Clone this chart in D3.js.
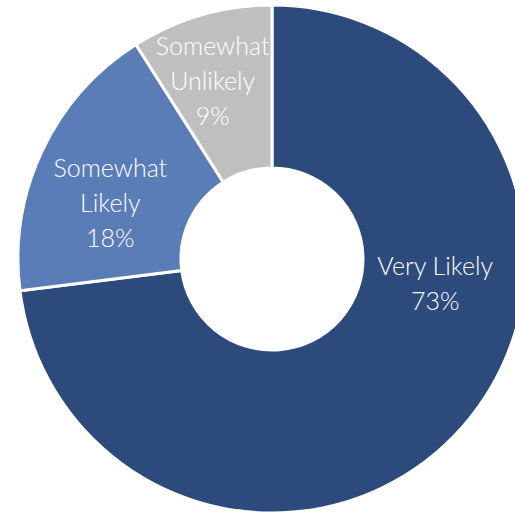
<!DOCTYPE html>
<html>
<head>
<meta charset="utf-8">
<script src="https://cdn.jsdelivr.net/npm/d3@7"></script>
<style>
  html, body { margin: 0; padding: 0; background: #fff; }
  svg { display: block; }
</style>
</head>
<body>
<svg id="chart" width="515" height="512"></svg>
<script>
// Survey responses, in drawing order (clockwise from 12 o'clock)
const categories = ["Very Likely", "Somewhat Likely", "Somewhat Unlikely"];
const shares = [73, 18, 9];
const labelLines = [["Very Likely"], ["Somewhat", "Likely"], ["Somewhat", "Unlikely"]];

const colors = ["#2D4A7C", "#5A7DB8", "#BFBFBF"];

const width = 515, height = 512;
const cx = 272, cy = 259;
const outerR = 254, innerR = 91;

// Label anchor for each slice: angle (degrees clockwise from top) and distance from centre
const labelAnchors = [
  { angle: 98.5, radius: 165 },
  { angle: 289, radius: 171 },
  { angle: 341.5, radius: 187 }
];

const svg = d3.select("#chart");
const g = svg.append("g").attr("transform", `translate(${cx},${cy})`);

const data = categories.map((c, i) => ({ category: c, value: shares[i], lines: labelLines[i], color: colors[i], anchor: labelAnchors[i] }));

const pie = d3.pie().value(d => d.value).sort(null);
const arc = d3.arc().innerRadius(innerR).outerRadius(outerR);

const arcs = pie(data);

g.selectAll("path.slice")
  .data(arcs)
  .join("path")
  .attr("class", "slice")
  .attr("d", arc)
  .attr("fill", d => d.data.color)
  .attr("stroke", "#fff")
  .attr("stroke-width", 3)
  .attr("stroke-linejoin", "round");

const lineH = 35;
const labels = g.selectAll("text.label")
  .data(arcs)
  .join("text")
  .attr("class", "label")
  .attr("text-anchor", "middle")
  .attr("fill", "#fff")
  .style("font-family", "Lato, 'Open Sans', sans-serif")
  .style("font-weight", 300)
  .style("font-size", "25px")
  .attr("transform", d => {
    const a = d.data.anchor.angle * Math.PI / 180;
    const x = Math.sin(a) * d.data.anchor.radius;
    const y = -Math.cos(a) * d.data.anchor.radius;
    return `translate(${x},${y})`;
  });

labels.each(function(d) {
  const lines = d.data.lines.concat([d.data.value + "%"]);
  const n = lines.length;
  const sel = d3.select(this);
  lines.forEach((t, i) => {
    sel.append("tspan")
      .attr("x", 0)
      .attr("y", (i - (n - 1) / 2) * lineH)
      .attr("dy", "0.35em")
      .text(t);
  });
});
</script>
</body>
</html>
